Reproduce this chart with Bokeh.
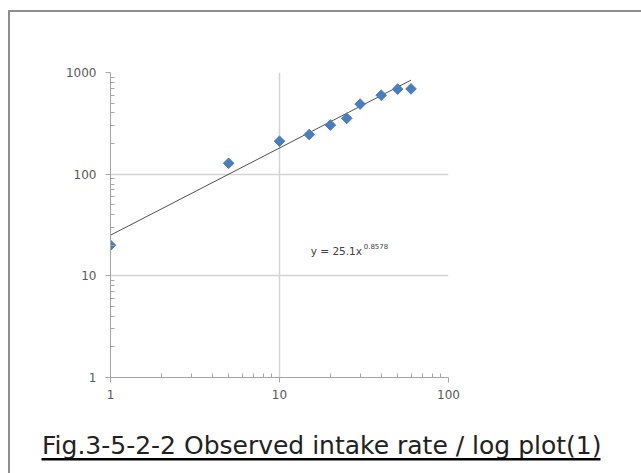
from bokeh.plotting import figure
from bokeh.layouts import column
from bokeh.models import Range1d, FixedTicker, Label, BoxAnnotation
from bokeh.embed import file_html
from bokeh.resources import INLINE
import numpy as np

# Data
intake_x = [1, 5, 10, 15, 20, 25, 30, 40, 50, 60]
intake_y = [20, 128, 211, 245, 304, 354, 489, 598, 686, 690]

# Power trendline shown on the chart: y = 25.1 x^0.8578
trend_a = 25.1
trend_b = 0.8578
trend_x = [1, 60]

x_ticks = [1, 10, 100]
y_ticks = [1, 10, 100, 1000]
tick_labels = {1: "1", 10: "10", 100: "100", 1000: "1000"}

caption = "Fig.3-5-2-2 Observed intake rate / log plot(1)"

minor_x = [m * d for d in [1, 10] for m in range(2, 10)]
minor_y = [m * d for d in [1, 10, 100] for m in range(2, 10)]

p = figure(width=631, height=403, x_axis_type="log", y_axis_type="log",
           x_range=Range1d(1, 100), y_range=Range1d(1, 1000),
           output_backend="svg", toolbar_location=None, frame_align=False,
           min_border_left=100, min_border_right=193,
           min_border_top=60, min_border_bottom=38)
p.outline_line_color = None
p.background_fill_color = "white"
p.border_fill_color = "white"

for ax, ticks, minors in ((p.xaxis[0], x_ticks, minor_x), (p.yaxis[0], y_ticks, minor_y)):
    ax.ticker = FixedTicker(ticks=ticks, minor_ticks=minors)
    ax.major_label_overrides = {t: tick_labels[t] for t in ticks}
    ax.axis_line_color = "#a6a6a6"
    ax.major_tick_line_color = "#a6a6a6"
    ax.minor_tick_line_color = "#a6a6a6"
    ax.major_tick_out = 5
    ax.major_tick_in = 0
    ax.minor_tick_in = 4
    ax.minor_tick_out = 0
    ax.major_label_text_font = "DejaVu Sans"
    ax.major_label_text_font_size = "12px"
    ax.major_label_text_color = "#595959"
p.yaxis[0].major_label_standoff = 9
p.xaxis[0].major_label_standoff = 7

p.xgrid.grid_line_color = "#d4d4d4"
p.ygrid.grid_line_color = "#d4d4d4"
p.xgrid.ticker = FixedTicker(ticks=x_ticks)
p.ygrid.ticker = FixedTicker(ticks=y_ticks)
p.xgrid.grid_line_width = 1.5
p.ygrid.grid_line_width = 1.5

trend_y = [trend_a * x ** trend_b for x in trend_x]
p.line(trend_x, trend_y, line_color="#505050", line_width=1)

p.scatter(intake_x, intake_y, marker="square", size=7.5, angle=np.pi / 4,
          fill_color="#4a7ebb", line_color="#4a7ebb")

eq = Label(x=15.3, y=17.4, text="y = 25.1x", text_font="DejaVu Sans",
           text_font_size="10.5px", text_color="#404040", text_baseline="middle")
sup = Label(x=15.3, y=17.4, x_offset=53, y_offset=5, text="0.8578",
            text_font="DejaVu Sans", text_font_size="7px", text_color="#404040",
            text_baseline="middle")
p.add_layout(eq)
p.add_layout(sup)

# Caption figure
c = figure(width=631, height=58, x_range=Range1d(0, 631), y_range=Range1d(0, 58),
           output_backend="svg", toolbar_location=None, frame_align=False,
           x_axis_location=None, y_axis_location=None,
           min_border_left=0, min_border_right=0, min_border_top=0, min_border_bottom=0)
c.grid.visible = False
c.outline_line_color = None
c.border_fill_color = "white"
cap = Label(x=31.5, y=28, x_units="screen", y_units="screen", text=caption,
            text_font="DejaVu Sans", text_font_size="25px", text_color="#222222",
            text_baseline="alphabetic")
c.add_layout(cap)
underline = BoxAnnotation(left=31, right=590, top=15.5, bottom=13,
                          left_units="screen", right_units="screen",
                          top_units="screen", bottom_units="screen",
                          fill_color="black", fill_alpha=1, line_color=None)
c.add_layout(underline)

layout = column(p, c, spacing=0,
                styles={"border-left": "2px solid #8e8e8e",
                        "border-top": "2px solid #8e8e8e",
                        "margin-left": "8px", "margin-top": "10px"})

open("out.html", "w").write(file_html(layout, INLINE))
